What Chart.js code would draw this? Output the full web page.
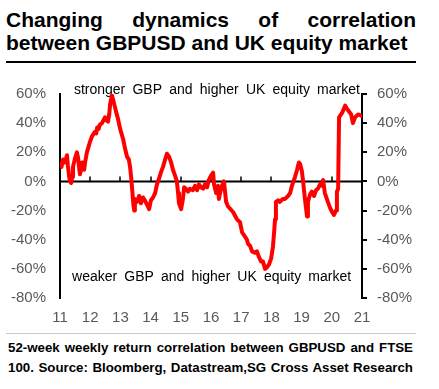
<!DOCTYPE html>
<html>
<head>
<meta charset="utf-8">
<script src="https://cdn.jsdelivr.net/npm/chart.js@4.4.1/dist/chart.umd.min.js"></script>
<style>
  body { margin: 0; width: 439px; height: 389px; background: #fff; position: relative; overflow: hidden;
         font-family: "Liberation Sans", Arial, sans-serif; color: #000; }
  #title { position: absolute; left: 6px; top: 8px; width: 410px; font-weight: bold; font-size: 21px;
           line-height: 23px; text-align: justify; }
  #rule1 { position: absolute; left: 6px; top: 61px; width: 410px; height: 2px; background: #000; }
  #chartBox { position: absolute; left: 0; top: 64px; width: 439px; height: 266px; }
  #rule2 { position: absolute; left: 6px; top: 333px; width: 410px; height: 1px; background: #c8c8c8; }
  #note { position: absolute; left: 8px; top: 338px; width: 405px; font-weight: bold; font-size: 13.3px;
          line-height: 20px; text-align: justify; text-align-last: justify; }
</style>
</head>
<body>
<div id="title">Changing dynamics of correlation between GBPUSD and UK equity market</div>
<div id="rule1"></div>
<div id="chartBox"><canvas id="corrChart" width="439" height="266"></canvas></div>
<div id="rule2"></div>
<div id="note">52-week weekly return correlation between GBPUSD and FTSE 100. Source: Bloomberg, Datastream,SG Cross Asset Research</div>

<script>
  /* ================= DATA ================= */

  // decimal year (11 = 2011) and 52-week correlation in %
  const years = [
    11.00, 11.05, 11.10, 11.17, 11.23, 11.26, 11.30, 11.33, 11.37, 11.40,
    11.43, 11.50, 11.56, 11.60, 11.63, 11.66, 11.70, 11.73, 11.76, 11.80,
    11.83, 11.89, 11.95, 11.99, 12.06, 12.12, 12.16, 12.20, 12.23, 12.28,
    12.32, 12.39, 12.44, 12.49, 12.54, 12.59, 12.63, 12.66, 12.72, 12.76,
    12.82, 12.88, 12.92, 12.97, 13.02, 13.09, 13.15, 13.22, 13.28, 13.32,
    13.36, 13.40, 13.43, 13.46, 13.48, 13.55, 13.62, 13.68, 13.75, 13.81,
    13.88, 13.95, 14.01, 14.08, 14.15, 14.21, 14.28, 14.34, 14.41, 14.48,
    14.54, 14.61, 14.68, 14.74, 14.81, 14.87, 14.91, 14.94, 15.01, 15.07,
    15.11, 15.17, 15.24, 15.30, 15.40, 15.47, 15.54, 15.60, 15.67, 15.74,
    15.80, 15.87, 15.93, 16.00, 16.07, 16.10, 16.17, 16.23, 16.26, 16.30,
    16.36, 16.43, 16.46, 16.50, 16.56, 16.73, 16.86, 16.96, 17.03, 17.13,
    17.19, 17.23, 17.29, 17.36, 17.46, 17.52, 17.59, 17.66, 17.72, 17.79,
    17.85, 17.92, 17.99, 18.05, 18.09, 18.12, 18.15, 18.22, 18.28, 18.38,
    18.45, 18.55, 18.62, 18.68, 18.78, 18.85, 18.91, 18.95, 19.01, 19.05,
    19.11, 19.18, 19.21, 19.28, 19.34, 19.41, 19.48, 19.54, 19.61, 19.68,
    19.71, 19.77, 19.87, 19.94, 20.01, 20.07, 20.14, 20.17, 20.21, 20.24,
    20.34, 20.44, 20.50, 20.57, 20.64, 20.70, 20.77, 20.87, 21.00
  ];

  const corr = [
    12, 10, 15, 13, 18, 11, 4, 0, -1, 3,
    10, 16, 20, 16, 10, 5, 8, 13, 10, 8,
    13, 20, 24, 27, 31, 33, 34, 33, 37, 36,
    39, 40, 42, 44, 42, 41, 46, 53, 59, 56,
    51, 46, 43, 38, 34, 29, 23, 17, 15, 10,
    2, -8, -16, -20, -12, -14, -10, -15, -11, -13,
    -16, -19, -13, -11, -8, -2, 2, 6, 10, 15,
    19, 17, 13, 8, 4, 0, -8, -15, -19, -12,
    -4, -5, -7, -5, -6, -3, -6, -2, -4, -5,
    -2, -4, 1, 4, 6, -2, -8, -3, -12, -8,
    -3, 0, -6, -14, -17, -21, -26, -28, -35, -38,
    -40, -43, -44, -48, -49, -48, -52, -55, -55, -60,
    -59, -57, -53, -45, -35, -26, -14, -13, -14, -12,
    -12, -10, -8, -3, 3, 8, 13, 12, 7, 0,
    -12, -24, -14, -9, -7, -10, -6, -5, -2, -3,
    1, -8, -14, -18, -21, -23, -20, -7, -5, 44,
    47, 52, 50, 48, 46, 40, 44, 46, 45
  ];

  const yearTicks = [12, 13, 14, 15, 16, 17, 18, 19, 20];

  const topWords = ['stronger', 'GBP', 'and', 'higher', 'UK', 'equity', 'market'];
  const bottomWords = ['weaker', 'GBP', 'and', 'higher', 'UK', 'equity', 'market'];

  /* ================= HELPERS ================= */

  const GREY = '#595959';
  const FONT = '"Liberation Sans", Arial, sans-serif';

  // spread words evenly between two x positions
  function drawWords(ctx, words, x0, x1, y) {
    const widths = words.map(w => ctx.measureText(w).width);
    const total = widths.reduce((a, b) => a + b, 0);
    const gap = (x1 - x0 - total) / (words.length - 1);
    let x = x0;
    words.forEach((w, i) => {
      ctx.fillText(w, x, y);
      x += widths[i] + gap;
    });
  }

  const zeroAxis = {
    id: 'zeroAxis',
    beforeDatasetsDraw(chart) {
      const { ctx, chartArea, scales } = chart;
      const xs = scales.x;
      const ys = scales.y;
      const y0 = ys.getPixelForValue(0);

      ctx.save();
      ctx.strokeStyle = '#000';
      ctx.lineWidth = 2;
      ctx.beginPath();
      ctx.moveTo(chartArea.left, y0);
      ctx.lineTo(chartArea.right, y0);
      ctx.stroke();

      ctx.lineWidth = 1.5;
      ctx.beginPath();
      yearTicks.forEach(v => {
        const px = Math.round(xs.getPixelForValue(v));
        ctx.moveTo(px, y0);
        ctx.lineTo(px, y0 - 5);
      });
      ctx.stroke();

      ctx.fillStyle = '#000';
      ctx.font = '14px ' + FONT;
      ctx.textBaseline = 'alphabetic';
      drawWords(ctx, topWords, xs.getPixelForValue(11.46), xs.getPixelForValue(20.93), ys.getPixelForValue(60));
      drawWords(ctx, bottomWords, xs.getPixelForValue(11.40), xs.getPixelForValue(20.64), ys.getPixelForValue(-68));
      ctx.restore();
    }
  };

  /* ================= CHART ================= */

  new Chart(document.getElementById('corrChart'), {
    type: 'line',
    data: {
      datasets: [{
        data: years.map((v, i) => ({ x: v, y: corr[i] })),
        borderColor: '#ff0000',
        borderWidth: 4,
        borderJoinStyle: 'round',
        borderCapStyle: 'round',
        pointRadius: 0,
        tension: 0,
        fill: false
      }]
    },
    options: {
      responsive: false,
      animation: false,
      layout: { padding: { top: 30, left: 0, right: 0, bottom: 0 } },
      plugins: {
        legend: { display: false },
        tooltip: { enabled: false }
      },
      scales: {
        x: {
          type: 'linear',
          min: 11,
          max: 21,
          grid: { display: false, drawTicks: false },
          border: { display: false },
          ticks: {
            stepSize: 1,
            autoSkip: false,
            maxRotation: 0,
            padding: 11,
            color: GREY,
            font: { family: FONT, size: 15 },
            callback: v => String(v)
          },
          afterFit: s => { s.height = 32; }
        },
        y: {
          position: 'left',
          min: -80,
          max: 60,
          grid: { display: false, drawTicks: false },
          border: { display: true, color: '#000', width: 2 },
          ticks: {
            stepSize: 20,
            padding: 14,
            color: GREY,
            font: { family: FONT, size: 15 },
            callback: v => v + '%'
          },
          afterFit: s => { s.width = 60; }
        },
        y2: {
          position: 'right',
          min: -80,
          max: 60,
          grid: { drawOnChartArea: false, drawTicks: true, tickLength: 5, color: '#000', lineWidth: 2 },
          border: { display: true, color: '#000', width: 2 },
          ticks: {
            stepSize: 20,
            padding: 10,
            color: GREY,
            font: { family: FONT, size: 15 },
            callback: v => v + '%'
          },
          afterFit: s => { s.width = 77; }
        }
      }
    },
    plugins: [zeroAxis]
  });
</script>
</body>
</html>
